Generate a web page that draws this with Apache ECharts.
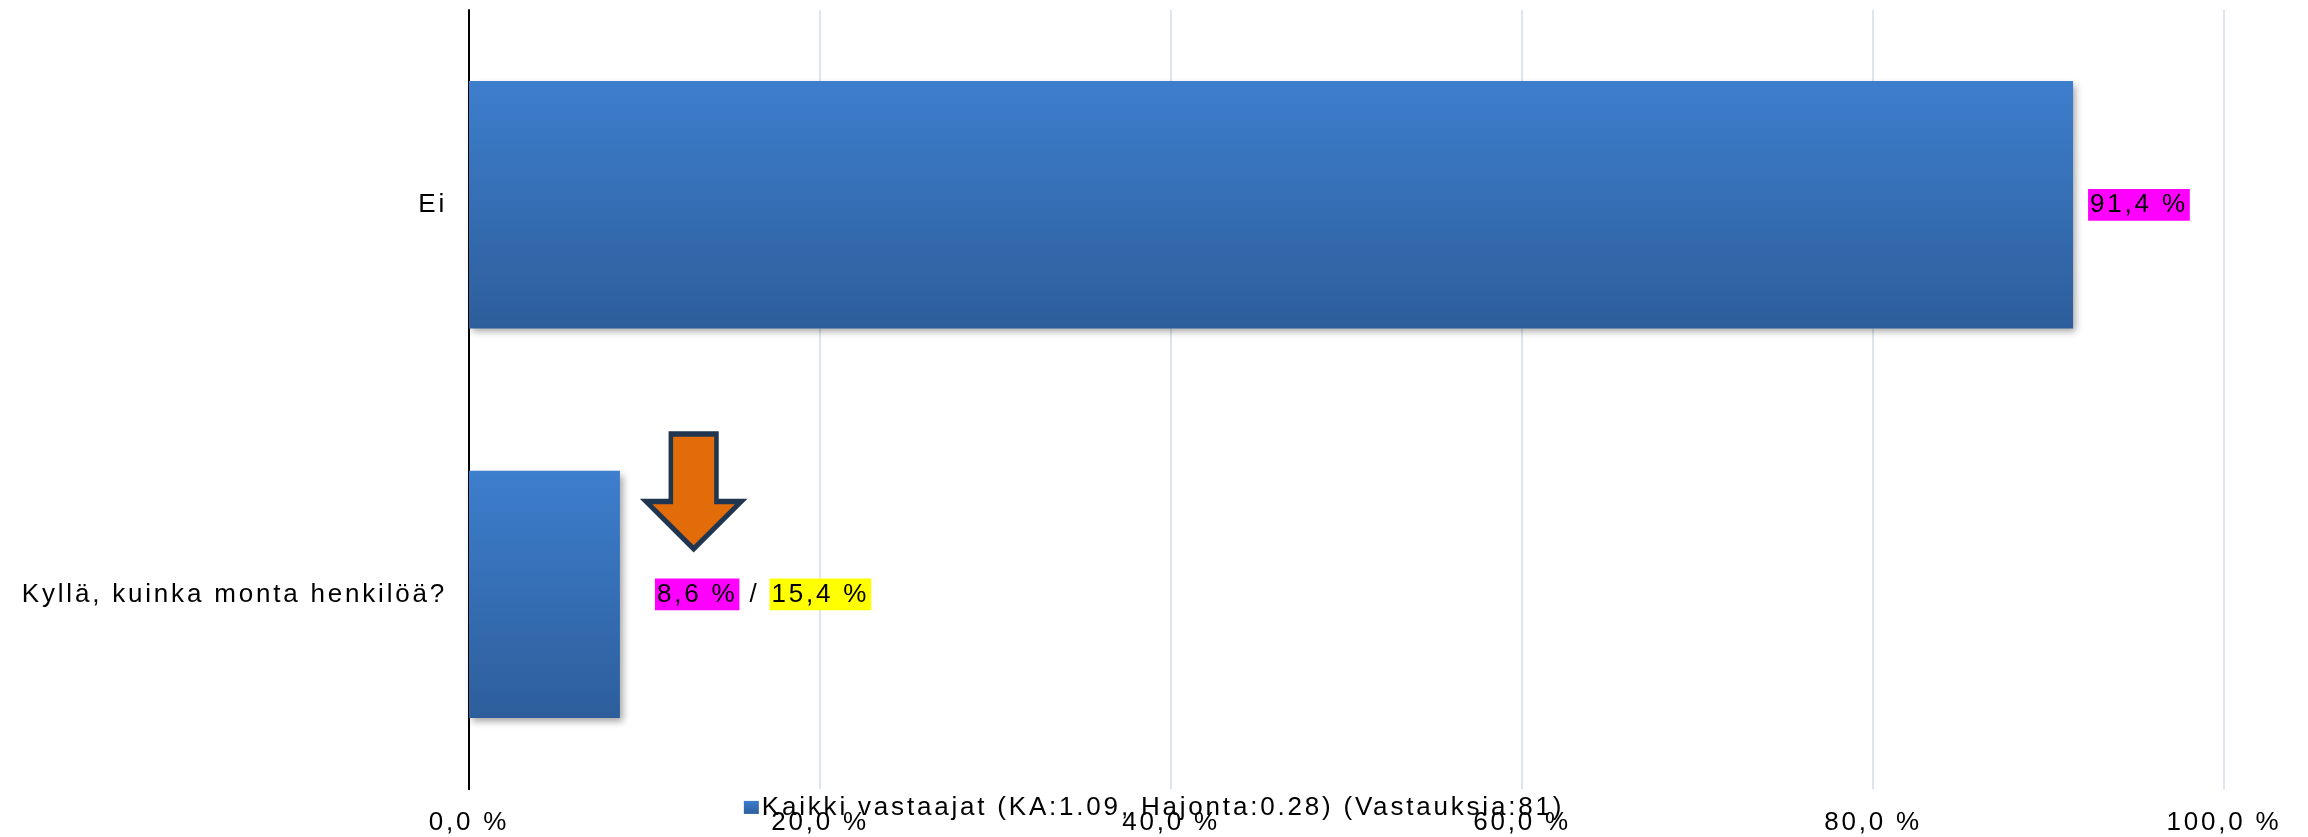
<!DOCTYPE html>
<html>
<head>
<meta charset="utf-8">
<script src="https://cdn.jsdelivr.net/npm/echarts@6.0.0/dist/echarts.min.js"></script>
<style>
  html, body { margin: 0; padding: 0; background: #fff; }
  #chart { width: 2308px; height: 837px; }
</style>
</head>
<body>
<div id="chart"></div>
<script>
// vastausvaihtoehdot ja osuudet (%)
const categories = ['Ei', 'Kyllä, kuinka monta henkilöä?'];
const shares = [91.4, 8.6];
// vertailuarvo (keltainen) – vain Kyllä-riville
const compareShares = [null, 15.4];
const seriesName = 'Kaikki vastaajat (KA:1.09, Hajonta:0.28) (Vastauksia:81)';
const axisTicks = [0, 20, 40, 60, 80, 100];
// nuoli osoittaa laskua Kyllä-rivillä
const arrowAt = [12.8];

// alkuperäisessä kuvassa teksti on harvennettu -> canvasin letterSpacing
const TRACKING = '2.8px';
const ctxProto = CanvasRenderingContext2D.prototype;
['fillText', 'strokeText', 'measureText'].forEach(fn => {
    const orig = ctxProto[fn];
    ctxProto[fn] = function () {
        if ('letterSpacing' in this) this.letterSpacing = TRACKING;
        return orig.apply(this, arguments);
    };
});

const fmt = v => v.toFixed(1).replace('.', ',') + ' %';
const font = '"Liberation Sans", Arial, sans-serif';

const barData = shares.map((v, i) => ({
    value: v,
    label: {
        distance: compareShares[i] == null ? 15 : 35,
        formatter: compareShares[i] == null
            ? '{m|' + fmt(v) + '}'
            : '{m|' + fmt(v) + '} / {y|' + fmt(compareShares[i]) + '}'
    }
}));

const chart = echarts.init(document.getElementById('chart'), null, { renderer: 'canvas' });
chart.setOption({
    backgroundColor: '#fff',
    animation: false,
    textStyle: { fontFamily: font },
    grid: { left: 469, right: 84, top: 10, bottom: 40 },
    legend: {
        data: [seriesName],
        top: 788, left: 'center',
        icon: 'rect', itemWidth: 15, itemHeight: 13, itemGap: 6,
        textStyle: { fontSize: 26, color: '#000', fontFamily: font, padding: [0, 0, 0, -2] }
    },
    xAxis: {
        type: 'value', min: axisTicks[0], max: axisTicks[axisTicks.length - 1], interval: 20,
        axisLine: { show: false }, axisTick: { show: false },
        splitLine: { lineStyle: { color: '#dce5f0', width: 2 } },
        axisLabel: { formatter: fmt, fontSize: 26, color: '#000', margin: 19 }
    },
    yAxis: {
        type: 'category', data: categories, inverse: true,
        axisLine: { lineStyle: { color: '#000', width: 2 } },
        axisTick: { show: false },
        axisLabel: { fontSize: 26, color: '#000', margin: 22 }
    },
    series: [{
        name: seriesName,
        type: 'bar',
        barWidth: '63.5%',
        data: barData,
        itemStyle: {
            color: new echarts.graphic.LinearGradient(0, 0, 0, 1, [
                { offset: 0, color: '#3d7ecd' },
                { offset: 1, color: '#2d5e9b' }
            ]),
            shadowColor: 'rgba(0,0,0,0.35)', shadowBlur: 7, shadowOffsetX: 3, shadowOffsetY: 4
        },
        label: {
            show: true, position: 'right', color: '#000', fontSize: 26,
            rich: {
                m: { backgroundColor: '#ff00ff', color: '#000', fontSize: 26, padding: [2, 2, 1, 2] },
                y: { backgroundColor: '#ffff00', color: '#000', fontSize: 26, padding: [2, 2, 1, 2] }
            }
        },
        markPoint: {
            symbol: 'path://M26,0L74,0L74,70L100,70L50,119L0,70L26,70Z',
            symbolSize: [95, 115],
            symbolOffset: [0, -103],
            itemStyle: { color: '#e36c0a', borderColor: '#1f3550', borderWidth: 5 },
            label: { show: false },
            data: arrowAt.map(x => ({ coord: [x, categories[1]] }))
        }
    }]
});
</script>
</body>
</html>
